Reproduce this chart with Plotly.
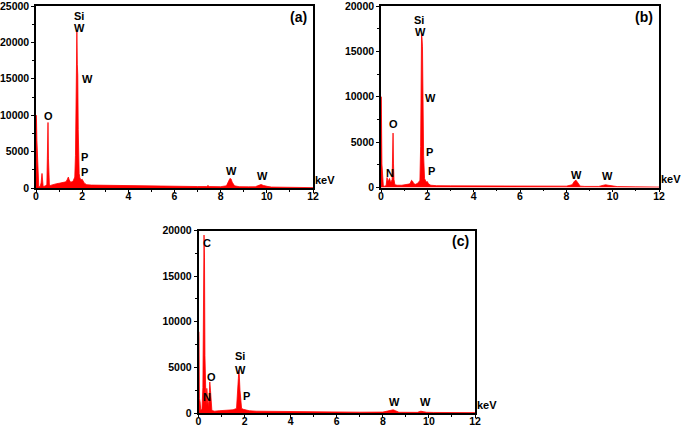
import plotly.graph_objects as go

# ---------------- data ----------------
energy_a = [0, 0.01, 0.02, 0.04, 0.06, 0.09, 0.12, 0.18, 0.22, 0.26, 0.28, 0.31, 0.36, 0.42, 0.47,
            0.50, 0.52, 0.54, 0.56, 0.58, 0.62, 0.7, 0.8, 0.9, 1.0, 1.1, 1.2, 1.3, 1.36, 1.4, 1.44,
            1.5, 1.6, 1.68, 1.71, 1.73, 1.75, 1.77, 1.79, 1.81, 1.83, 1.85, 1.87, 1.9, 1.95, 2.0,
            2.03, 2.07, 2.12, 2.2, 2.4, 2.7, 3.0, 3.5, 3.8, 3.85, 4.0, 4.5, 5.0, 5.5, 6.0, 6.5, 7.0,
            7.4, 7.45, 7.5, 8.0, 8.25, 8.35, 8.4, 8.45, 8.5, 8.6, 8.8, 9.2, 9.5, 9.6, 9.7, 9.75,
            9.85, 9.95, 10.05, 10.2, 10.5, 11.0, 11.5, 12.0]
counts_a = [0, 10000, 9500, 6500, 4000, 300, 150, 200, 700, 2000, 600, 200, 250, 300, 500,
            5200, 9000, 4000, 1500, 400, 350, 450, 550, 600, 650, 700, 750, 850, 1200, 1500, 1100,
            800, 900, 1500, 4500, 13500, 20500, 21500, 17000, 15500, 8000, 4000, 2000, 1400, 1100, 1200,
            900, 800, 600, 450, 400, 380, 360, 340, 400, 350, 320, 300, 280, 260, 240, 220, 200,
            200, 350, 200, 180, 300, 900, 1300, 1250, 800, 300, 180, 160, 170, 300, 500, 480,
            350, 250, 200, 130, 100, 80, 60, 50]

energy_b = [0, 0.01, 0.02, 0.04, 0.07, 0.1, 0.15, 0.22, 0.26, 0.29, 0.33, 0.37, 0.4, 0.44, 0.48,
            0.5, 0.52, 0.54, 0.56, 0.6, 0.7, 0.9, 1.1, 1.25, 1.32, 1.36, 1.42, 1.5, 1.6, 1.68,
            1.71, 1.73, 1.75, 1.77, 1.79, 1.81, 1.84, 1.88, 1.95, 2.0, 2.05, 2.15, 2.4, 3.0, 4.0,
            5.0, 6.0, 7.0, 8.0, 8.25, 8.35, 8.42, 8.5, 8.6, 8.8, 9.4, 9.6, 9.7, 9.8, 9.95, 10.05,
            10.2, 11.0, 12.0]
counts_b = [0, 10000, 8000, 2600, 1500, 200, 150, 200, 1100, 700, 800, 1000, 700, 600, 900,
            2500, 6000, 2600, 900, 300, 250, 250, 300, 400, 800, 700, 400, 350, 500, 800,
            4500, 10500, 17000, 16500, 15500, 10000, 3500, 1000, 600, 650, 400, 250, 200, 180, 160,
            150, 140, 130, 150, 300, 700, 800, 500, 150, 120, 120, 250, 300, 250, 200, 150,
            100, 70, 50]

energy_c = [0, 0.01, 0.02, 0.04, 0.07, 0.1, 0.15, 0.19, 0.22, 0.24, 0.26, 0.28, 0.3, 0.33, 0.36,
            0.39, 0.42, 0.46, 0.49, 0.52, 0.55, 0.58, 0.62, 0.7, 0.9, 1.1, 1.3, 1.5, 1.65, 1.7,
            1.73, 1.75, 1.77, 1.8, 1.83, 1.87, 1.95, 2.05, 2.2, 2.5, 3.0, 4.0, 5.0, 6.0, 7.0,
            8.0, 8.35, 8.45, 8.55, 8.7, 9.5, 9.65, 9.75, 9.9, 10.2, 11.0, 12.0]
counts_c = [0, 8900, 8000, 1600, 1200, 300, 400, 2800, 13000, 19500, 17000, 6300, 2000, 800, 2700,
            1000, 700, 1500, 3400, 2500, 900, 300, 250, 200, 250, 300, 300, 350, 500, 2000,
            3800, 4700, 4200, 2500, 1200, 500, 400, 350, 250, 200, 180, 140, 120, 100, 90,
            100, 250, 350, 250, 80, 70, 200, 150, 80, 60, 50, 40]

x_ticks = [0, 2, 4, 6, 8, 10, 12]
y_max = {"a": 25000, "b": 20000, "c": 20000}

# element labels: (text, energy, counts)
labels_a = [("Si", 1.88, 23600), ("W", 1.9, 22000), ("W", 2.23, 15000), ("O", 0.53, 9900),
            ("P", 2.1, 4300), ("P", 2.1, 2200), ("W", 8.49, 2350), ("W", 9.82, 1650)]
labels_b = [("Si", 1.66, 18450), ("W", 1.72, 17150), ("W", 2.15, 9900), ("O", 0.52, 7050),
            ("P", 2.1, 3900), ("P", 2.18, 1850), ("N", 0.4, 1650), ("W", 8.44, 1430),
            ("W", 9.76, 1290)]
labels_c = [("C", 0.36, 18600), ("Si", 1.78, 6250), ("W", 1.84, 4700), ("O", 0.58, 4000),
            ("N", 0.36, 1700), ("P", 2.08, 1870), ("W", 8.49, 1170), ("W", 9.87, 1170)]
panel_tags = {"a": "(a)", "b": "(b)", "c": "(c)"}

# ---------------- figure ----------------
W, H = 685, 428
FONT = "Arial, Liberation Sans, sans-serif"
RED = "#ff0000"

def dom(x0, x1, ytop, ybot):
    return [x0 / W, x1 / W], [1 - ybot / H, 1 - ytop / H]

doms = {
    "a": dom(36, 313, 6, 188),
    "b": dom(381, 659, 6, 187.5),
    "c": dom(198.5, 475, 230.5, 413),
}

fig = go.Figure()
panels = [("a", energy_a, counts_a, labels_a, ""),
          ("b", energy_b, counts_b, labels_b, "2"),
          ("c", energy_c, counts_c, labels_c, "3")]

layout = dict(
    width=W, height=H, margin=dict(l=0, r=0, t=0, b=0, autoexpand=False),
    paper_bgcolor="white", plot_bgcolor="white", showlegend=False,
)

for key, e, c, labs, sfx in panels:
    assert len(e) == len(c)
    fig.add_trace(go.Scatter(
        x=e, y=c, mode="lines", fill="tozeroy",
        line=dict(color=RED, width=0.8), fillcolor=RED,
        xaxis="x" + sfx, yaxis="y" + sfx, hoverinfo="skip", cliponaxis=True,
    ))
    xd, yd = doms[key]
    ymax = y_max[key]
    layout["xaxis" + sfx] = dict(
        domain=xd, anchor="y" + sfx, range=[0, 12], tickvals=x_ticks, automargin=False,
        ticklabeloverflow="allow", ticklabelstandoff=-5,
        showline=True, linecolor="black", linewidth=1.5, mirror=True,
        ticks="outside", ticklen=3, tickwidth=1.2, tickcolor="black",
        minor=dict(dtick=1, ticks="outside", ticklen=2, tickcolor="black"),
        showgrid=False, zeroline=False,
        tickfont=dict(family=FONT, size=10.5, color="black", weight="bold"),
    )
    layout["yaxis" + sfx] = dict(
        domain=yd, anchor="x" + sfx, range=[0, ymax],
        tickvals=list(range(0, ymax + 1, 5000)), automargin=False,
        ticklabeloverflow="allow",
        tickformat="d", exponentformat="none",
        showline=True, linecolor="black", linewidth=1.5, mirror=True,
        ticks="outside", ticklen=3, tickwidth=1.2, tickcolor="black",
        minor=dict(dtick=2500, ticks="outside", ticklen=2, tickcolor="black"),
        showgrid=False, zeroline=False,
        tickfont=dict(family=FONT, size=10.5, color="black", weight="bold"),
    )
    for txt, ex, cy in labs:
        fig.add_annotation(
            x=ex, y=cy, xref="x" + sfx, yref="y" + sfx, text=txt, showarrow=False,
            xanchor="center", yanchor="middle",
            font=dict(family=FONT, size=11, color="black", weight="bold"),
        )
    fig.add_annotation(
        x=0.985, y=0.94, xref=f"x{sfx} domain", yref=f"y{sfx} domain", text=panel_tags[key],
        showarrow=False, xanchor="right", yanchor="middle",
        font=dict(family=FONT, size=14, color="black", weight="bold"),
    )
    fig.add_annotation(
        x=1.0, y=0, xref=f"x{sfx} domain", yref=f"y{sfx} domain", text="keV",
        showarrow=False, xanchor="left", yanchor="bottom", xshift=0, yshift=0,
        font=dict(family=FONT, size=11, color="black", weight="bold"),
    )

fig.update_layout(**layout)
fig.write_html(
    "out.html",
    config={"displayModeBar": False},
    post_script="document.body.style.margin='0px';document.body.style.padding='0px';",
)
